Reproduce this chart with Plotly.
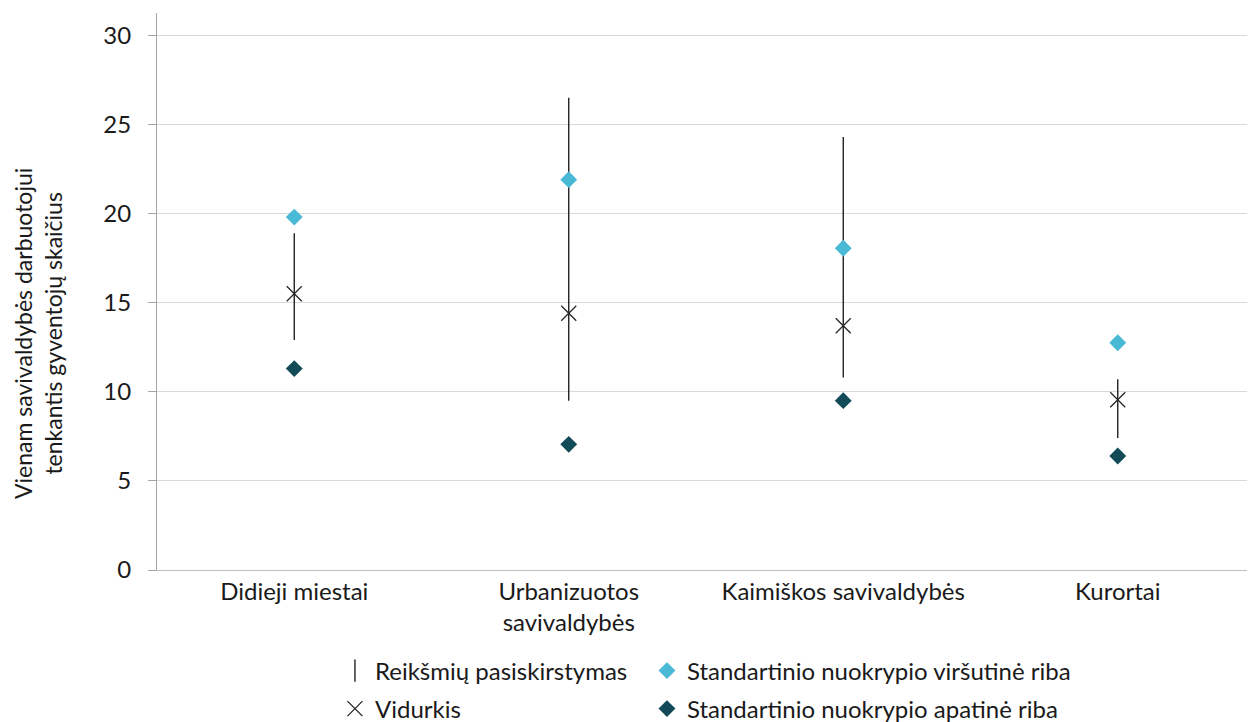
import plotly.graph_objects as go

categories = ["Didieji miestai", "Urbanizuotos<br>savivaldybės", "Kaimiškos savivaldybės", "Kurortai"]
range_min = [12.9, 9.5, 10.8, 7.4]
range_max = [18.9, 26.5, 24.3, 10.7]
mean_vals = [15.5, 14.4, 13.7, 9.55]
sd_upper = [19.8, 21.9, 18.05, 12.75]
sd_lower = [11.3, 7.05, 9.5, 6.4]
y_ticks = [0, 5, 10, 15, 20, 25, 30]

names = ["Reikšmių pasiskirstymas", "Vidurkis",
         "Standartinio nuokrypio viršutinė riba", "Standartinio nuokrypio apatinė riba"]

FONT = "Lato"
TXT = "#1a1a1a"
C_UP = "#4AB9D6"
C_LO = "#124A58"
FS = 24

# range lines built from the data arrays
lx, ly = [], []
for c, lo, hi in zip(categories, range_min, range_max):
    lx += [c, c, None]
    ly += [lo, hi, None]

fig = go.Figure()
fig.add_trace(go.Scatter(x=lx, y=ly, mode="lines", line=dict(color="#111", width=1.3),
                         showlegend=False, hoverinfo="skip"))
# legend entry for the range (vertical bar symbol)
fig.add_trace(go.Scatter(x=[None], y=[None], mode="markers", name=names[0],
                         marker=dict(symbol="line-ns", size=24, line=dict(color="#111", width=1.3)),
                         legend="legend"))
fig.add_trace(go.Scatter(x=categories, y=sd_upper, mode="markers", name=names[2],
                         marker=dict(symbol="diamond", size=13, color=C_UP, line=dict(width=0)),
                         legend="legend2"))
fig.add_trace(go.Scatter(x=categories, y=mean_vals, mode="markers", name=names[1],
                         marker=dict(symbol="x-thin", size=15, line=dict(color="#262626", width=1.3)),
                         legend="legend3"))
fig.add_trace(go.Scatter(x=categories, y=sd_lower, mode="markers", name=names[3],
                         marker=dict(symbol="diamond", size=13, color=C_LO, line=dict(width=0)),
                         legend="legend4"))

lfont = dict(family=FONT, size=FS, color=TXT)
def leg(x, y):
    return dict(x=x, y=y, xref="container", yref="container", xanchor="left",
                yanchor="middle", font=lfont, bgcolor="rgba(0,0,0,0)", borderwidth=0,
                itemclick=False)

# the page body adds an 8px offset, so the figure is 8px smaller than the window
fig.update_layout(
    width=1247, height=714,
    margin=dict(l=149, r=0, t=5, b=152, autoexpand=False),
    plot_bgcolor="white", paper_bgcolor="white",
    font=dict(family=FONT, size=FS, color=TXT),
    showlegend=True,
    legend=leg(0.2622, 0.0714),
    legend2=leg(0.5124, 0.0714),
    legend3=leg(0.2622, 0.0182),
    legend4=leg(0.5124, 0.0182),
    xaxis=dict(type="category", categoryorder="array", categoryarray=categories,
               range=[-0.5, 3.5], showgrid=False, showline=True, linecolor="#BFBFBF",
               linewidth=1, ticks="", tickfont=dict(family=FONT, size=FS, color=TXT),
               zeroline=False, fixedrange=True, automargin=False),
    yaxis=dict(range=[0, 31.25], tickvals=y_ticks, showgrid=True, gridcolor="#D9D9D9",
               gridwidth=1, showline=True, linecolor="#A6A6A6", linewidth=1,
               ticks="outside", ticklen=8, tickcolor="#A6A6A6", tickwidth=1,
               tickfont=dict(family=FONT, size=FS, color=TXT), zeroline=False,
               ticklabelstandoff=12, fixedrange=True, automargin=False),
    annotations=[dict(text="Vienam savivaldybės darbuotojui<br>tenkantis gyventojų skaičius",
                      xref="paper", yref="paper", x=-0.1084, y=0.4255, xanchor="center",
                      yanchor="middle", textangle=-90, showarrow=False,
                      font=dict(family=FONT, size=23, color=TXT))],
)

fig.write_html("out.html")
